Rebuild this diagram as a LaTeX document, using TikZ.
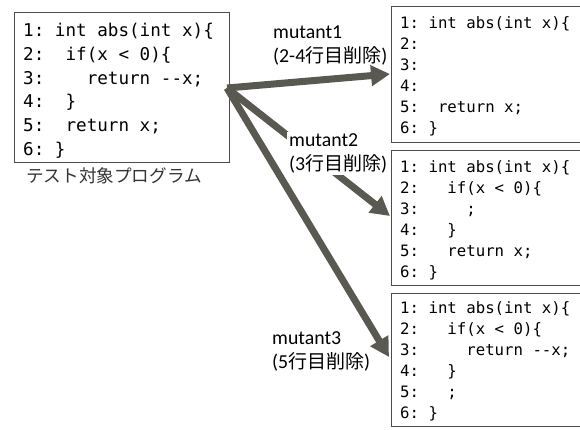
\documentclass[tikz,border=0pt]{standalone}
\usepackage{fontspec}
\setmainfont{Carlito}
\setmonofont{DejaVu Sans Mono}
\newfontfamily\jp{Noto Sans CJK JP}
\usetikzlibrary{arrows.meta}
\definecolor{arr}{HTML}{595951}
\tikzset{
  codebox/.style={draw=black!70, line width=0.9pt},
  srccode/.style={anchor=base west, inner sep=0pt, align=left,
    font=\ttfamily\fontsize{17.6}{23.8}\selectfont},
  mutcode/.style={anchor=base west, inner sep=0pt, align=left,
    font=\ttfamily\fontsize{15.7}{21}\selectfont},
  lbl/.style={anchor=base west, inner sep=0pt, align=left,
    font=\fontsize{19.8}{23.5}\selectfont},
  bigarrow/.style={draw=arr, line width=7pt,
    -{Triangle[length=19pt,width=20pt]}},
}
\begin{document}
\begin{tikzpicture}[x=1pt,y=-1pt]
\useasboundingbox (0,0) rectangle (580,429);
\clip (0,0) rectangle (580,429);
% boxes
\draw[codebox] (14,12) rectangle (229,162);
\coordinate (src) at (227,88);
\draw[codebox] (391,6) rectangle (600,142);
\draw[codebox] (391,150) rectangle (600,285);
\draw[codebox] (391,293) rectangle (600,426);
\coordinate (t1) at (390,74);
\coordinate (t2) at (390,216);
\coordinate (t3) at (389,357);
% code (anchor = baseline of last line)
\node[srccode] (code0) at (23,155.5) {1: int abs(int x)\{\\2:\ \ if(x < 0)\{\\3:\ \ \ \ return -{}-x;\\4:\ \ \}\\5:\ \ return x;\\6: \}};
\node[mutcode] (code1) at (400,133) {1: int abs(int x)\{\\2:\\3:\\4:\\5:\ \ return x;\\6: \}};
\node[mutcode] (code2) at (400,277) {1: int abs(int x)\{\\2:\ \ \ if(x < 0)\{\\3:\ \ \ \ \ ;\\4:\ \ \ \}\\5:\ \ \ return x;\\6: \}};
\node[mutcode] (code3) at (400,418) {1: int abs(int x)\{\\2:\ \ \ if(x < 0)\{\\3:\ \ \ \ \ return -{}-x;\\4:\ \ \ \}\\5:\ \ \ ;\\6: \}};
\node[anchor=base west, inner sep=0pt, text=black!80, font=\jp\fontsize{17.6}{20}\selectfont] (caption) at (26,182) {テスト対象プログラム};
% arrows
\draw[bigarrow] (src) -- (t1);
\draw[bigarrow] (src) -- (t2);
\draw[bigarrow] (src) -- (t3);
% labels
\node[lbl] (m1) at (273,62) {mutant1\\(2-4{\jp\fontsize{19}{23.5}\selectfont 行目削除})};
\node[lbl, fill=white, inner sep=2pt] (m2) at (287,170) {mutant2\\(3{\jp\fontsize{19}{23.5}\selectfont 行目削除})};
\node[lbl] (m3) at (272,368) {mutant3\\(5{\jp\fontsize{19}{23.5}\selectfont 行目削除})};
\end{tikzpicture}
\end{document}
